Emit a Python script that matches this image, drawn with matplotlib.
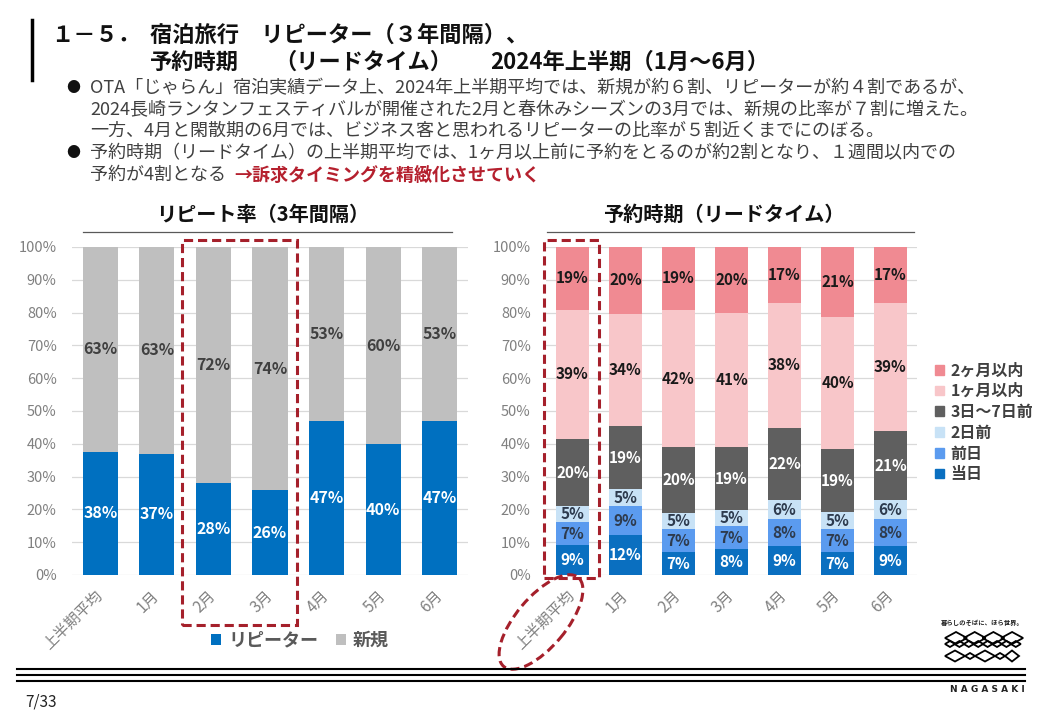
import matplotlib
matplotlib.use("Agg")
import matplotlib.pyplot as plt
from matplotlib.lines import Line2D
from matplotlib.patches import Rectangle, Ellipse, Patch, Polygon
from matplotlib.ticker import PercentFormatter
import numpy as np

plt.rcParams["font.family"] = ["Noto Sans CJK JP", "DejaVu Sans"]

# ---- data ----
categories = ["上半期平均", "1月", "2月", "3月", "4月", "5月", "6月"]

repeater = [0.376, 0.369, 0.280, 0.259, 0.470, 0.399, 0.470]
new_guest = [0.624, 0.631, 0.720, 0.741, 0.530, 0.601, 0.530]
repeater_labels = ["38%", "37%", "28%", "26%", "47%", "40%", "47%"]
new_labels = ["63%", "63%", "72%", "74%", "53%", "60%", "53%"]

same_day = [0.091, 0.122, 0.070, 0.079, 0.088, 0.070, 0.088]
prev_day = [0.071, 0.088, 0.070, 0.070, 0.082, 0.070, 0.082]
two_days = [0.048, 0.052, 0.049, 0.049, 0.058, 0.052, 0.058]
days_3_7 = [0.205, 0.192, 0.201, 0.192, 0.220, 0.192, 0.211]
within_1m = [0.393, 0.342, 0.418, 0.409, 0.382, 0.403, 0.391]
within_2m = [0.192, 0.204, 0.192, 0.201, 0.170, 0.213, 0.170]

same_day_labels = ["9%", "12%", "7%", "8%", "9%", "7%", "9%"]
prev_day_labels = ["7%", "9%", "7%", "7%", "8%", "7%", "8%"]
two_days_labels = ["5%", "5%", "5%", "5%", "6%", "5%", "6%"]
days_3_7_labels = ["20%", "19%", "20%", "19%", "22%", "19%", "21%"]
within_1m_labels = ["39%", "34%", "42%", "41%", "38%", "40%", "39%"]
within_2m_labels = ["19%", "20%", "19%", "20%", "17%", "21%", "17%"]

lead_names = ["当日", "前日", "2日前", "3日～7日前", "1ヶ月以内", "2ヶ月以内"]
lead_colors = ["#0A6FC0", "#5B9BEF", "#C8E2F6", "#5F5F5F", "#F8C6C9", "#F08A92"]
lead_label_colors = ["white", "#2E3B4E", "#2E3B4E", "white", "#1A1A1A", "#1A1A1A"]

W, H = 1040, 720
DARK_RED = "#A5202B"


def fx(px):
    return px / W


def fy(py):
    return 1 - py / H


fig = plt.figure(figsize=(10.4, 7.2), dpi=100)

# ---- header ----
fig.add_artist(Line2D([fx(32), fx(32)], [fy(20), fy(80)], color="black", lw=2.5))
title_kw = dict(fontsize=16, fontweight="bold", va="center", color="#111111")
fig.text(fx(51), fy(35), "１－５．", **title_kw)
fig.text(fx(150), fy(35), "宿泊旅行　リピーター（３年間隔）、", **title_kw)
fig.text(fx(150), fy(62), "予約時期", **title_kw)
fig.text(fx(274), fy(62), "（リードタイム）", **title_kw)
fig.text(fx(490), fy(62), "2024年上半期（1月～6月）", **title_kw)

body = [
    "OTA「じゃらん」宿泊実績データ上、2024年上半期平均では、新規が約６割、リピーターが約４割であるが、",
    "2024長崎ランタンフェスティバルが開催された2月と春休みシーズンの3月では、新規の比率が７割に増えた。",
    "一方、4月と閑散期の6月では、ビジネス客と思われるリピーターの比率が５割近くまでにのぼる。",
    "予約時期（リードタイム）の上半期平均では、1ヶ月以上前に予約をとるのが約2割となり、１週間以内での",
    "予約が4割となる",
]
line_y = [88, 110, 131, 153, 175]
for txt, y in zip(body, line_y):
    fig.text(fx(90), fy(y), txt, fontsize=13.0, va="center", color="#404040")
for y in (line_y[0], line_y[3]):
    fig.text(fx(73), fy(y), "●", fontsize=10, va="center", ha="center", color="#111111")
fig.text(fx(234), fy(line_y[4]), "→訴求タイミングを精緻化させていく", fontsize=13.0,
         fontweight="bold", va="center", color="#B5202E")

# ---- axes ----
ax1 = fig.add_axes([fx(72), fy(575), 396 / W, 328 / H])
ax2 = fig.add_axes([fx(546), fy(575), 371 / W, 328 / H])

x = np.arange(len(categories))

# left: repeat rate
b1 = ax1.bar(x, repeater, width=0.62, color="#0070C0", label="リピーター", zorder=2)
b2 = ax1.bar(x, new_guest, width=0.62, bottom=repeater, color="#BFBFBF", label="新規", zorder=2)
ax1.bar_label(b1, labels=repeater_labels, label_type="center", color="white",
              fontsize=11.5, fontweight="bold")
ax1.bar_label(b2, labels=new_labels, label_type="center", color="#404040",
              fontsize=11.5, fontweight="bold")

# right: lead time
bottom = np.zeros(len(categories))
lead_values = [same_day, prev_day, two_days, days_3_7, within_1m, within_2m]
lead_labels = [same_day_labels, prev_day_labels, two_days_labels, days_3_7_labels,
               within_1m_labels, within_2m_labels]
lead_handles = []
for vals, name, col, lab, lcol in zip(lead_values, lead_names, lead_colors, lead_labels,
                                      lead_label_colors):
    bars = ax2.bar(x, vals, width=0.625, bottom=bottom, color=col, zorder=2)
    ax2.bar_label(bars, labels=lab, label_type="center", color=lcol,
                  fontsize=11, fontweight="bold")
    bottom = bottom + np.array(vals)
    lead_handles.append(Patch(color=col, label=name))

for ax in (ax1, ax2):
    ax.set_xlim(-0.5, 6.5)
    ax.set_ylim(0, 1)
    ax.set_yticks(np.arange(0, 1.01, 0.1))
    ax.yaxis.set_major_formatter(PercentFormatter(1.0, decimals=0))
    ax.set_xticks(x)
    ax.set_xticklabels(categories, rotation=45, ha="right", va="center",
                       rotation_mode="anchor")
    ax.tick_params(axis="x", length=0, pad=13, labelsize=11, labelcolor="#808080")
    ax.tick_params(axis="y", length=0, pad=11, labelsize=10.5, labelcolor="#808080")
    ax.yaxis.grid(True, color="#D9D9D9", lw=0.9)
    ax.set_axisbelow(True)
    for s in ax.spines.values():
        s.set_visible(False)

# chart titles with underline
fig.text(fx(263), fy(214), "リピート率（3年間隔）", fontsize=14.5, fontweight="bold",
         ha="center", va="center", color="#111111")
fig.add_artist(Line2D([fx(83), fx(452)], [fy(232), fy(232)], color="#595959", lw=0.9))
fig.text(fx(724), fy(214), "予約時期（リードタイム）", fontsize=14.5, fontweight="bold",
         ha="center", va="center", color="#111111")
fig.add_artist(Line2D([fx(547), fx(914)], [fy(232), fy(232)], color="#595959", lw=0.9))

# legends
fig.legend(handles=[b1, b2], loc="center", bbox_to_anchor=(fx(300), fy(640)), ncol=2,
           frameon=False, handlelength=0.55, handleheight=0.55,
           handletextpad=0.4, columnspacing=1.0, prop={"weight": "bold", "size": 13},
           labelcolor="#595959")
fig.legend(handles=lead_handles[::-1], loc="upper left", bbox_to_anchor=(fx(921), fy(348)),
           frameon=False, handlelength=0.55, handleheight=0.55, handletextpad=0.4,
           labelspacing=0.3, prop={"weight": "bold", "size": 11.5}, labelcolor="#404040")

# highlight boxes
dash = (0, (3, 1.6))
ax1.add_patch(Rectangle((1.44, -0.152), 2.035, 1.173, fill=False, ec=DARK_RED, lw=2.2,
                        ls=dash, clip_on=False, zorder=5))
ax2.add_patch(Rectangle((-0.54, -0.009), 1.04, 1.03, fill=False, ec=DARK_RED, lw=2.2,
                        ls=dash, clip_on=False, zorder=5))
fig.add_artist(Ellipse((5.41, (H - 622) / 100), 1.16, 0.50, angle=50, fill=False,
                       ec=DARK_RED, lw=2.2, ls=dash, transform=fig.dpi_scale_trans))

# ---- footer ----
for y in (668.5, 674.5, 680.5):
    fig.add_artist(Line2D([fx(17), fx(1025)], [fy(y), fy(y)], color="black", lw=1.5))
fig.text(fx(25), fy(702), "7/33", fontsize=11, va="center", color="#222222")
fig.text(fx(1025), fy(690), "N A G A S A K I", fontsize=6.5, fontweight="bold",
         ha="right", va="center", color="#222222", family="DejaVu Sans")
fig.text(fx(982), fy(623), "暮らしのそばに、ほら世界。", fontsize=4.6, fontweight="bold",
         ha="center", va="center", color="#222222")


def diamond(cx, cy, w, h):
    pts = [(cx - w / 2, cy), (cx, cy - h / 2), (cx + w / 2, cy), (cx, cy + h / 2)]
    return Polygon([(fx(a), fy(b)) for a, b in pts], closed=True, fill=False,
                   ec="black", lw=1.3, transform=fig.transFigure)


for i in range(4):
    fig.add_artist(diamond(956 + 18.7 * i, 638, 22, 12))
for j in range(8):
    fig.add_artist(diamond(950 + 9.4 * j, 644, 10, 6))
for cx, w, h in [(955, 20, 11), (970, 10, 6), (985, 20, 11), (1000, 10, 6), (1012, 14, 11)]:
    fig.add_artist(diamond(cx, 656, w, h))

fig.savefig("out.png", dpi=100)
